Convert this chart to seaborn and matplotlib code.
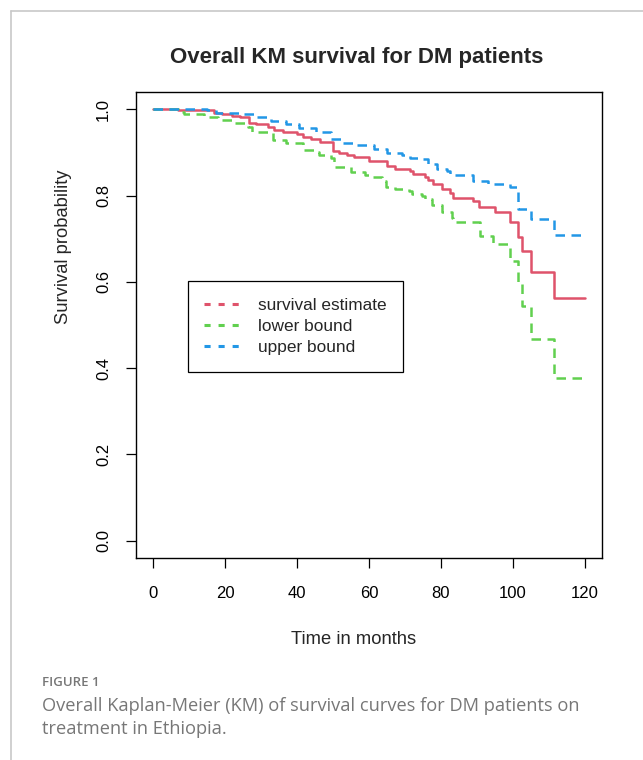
import seaborn as sns
from matplotlib import pyplot as plt
from matplotlib.lines import Line2D

# Kaplan-Meier estimate and 95% bounds
surv_time = [0, 7, 17, 19, 22, 24, 26.5, 28.5, 32, 33.5, 36, 40, 41.6, 44, 46.5, 50, 51.6,
             54, 55.7, 60, 65, 67.3, 71.5, 72.3, 75.6, 76.5, 77.9, 80.4, 82.6, 83.4, 89,
             90.6, 95, 99.2, 101.5, 102.5, 105, 111.5, 120]
surv_prob = [1.0, 0.998, 0.992, 0.99, 0.984, 0.981, 0.968, 0.965, 0.958, 0.951, 0.947, 0.942,
             0.935, 0.93, 0.925, 0.903, 0.899, 0.895, 0.89, 0.88, 0.869, 0.861, 0.857, 0.851,
             0.842, 0.836, 0.826, 0.816, 0.806, 0.795, 0.788, 0.774, 0.762, 0.738, 0.704,
             0.672, 0.623, 0.562, 0.562]

lower_time = [0, 7, 8.5, 14, 18, 22, 26.3, 27.4, 33.2, 37, 41.6, 42, 44.6, 46, 49.3, 50.2,
              54.9, 59, 61, 63.7, 64.6, 67.3, 71, 72, 74.8, 75.5, 77.6, 80.4, 83.1, 83.5,
              90.9, 94.6, 99.2, 101.5, 102.5, 105, 111.5, 120]
lower_prob = [1.0, 0.993, 0.988, 0.983, 0.975, 0.968, 0.958, 0.948, 0.929, 0.921, 0.911, 0.906,
              0.9, 0.894, 0.886, 0.867, 0.855, 0.847, 0.842, 0.834, 0.819, 0.816, 0.811, 0.803,
              0.799, 0.792, 0.778, 0.761, 0.749, 0.738, 0.707, 0.688, 0.649, 0.595, 0.545,
              0.468, 0.377, 0.377]

upper_time = [0, 15, 17.5, 25, 28.5, 32.7, 36.9, 40.5, 45.2, 49.3, 52.9, 56.8, 61.3, 65.1,
              69.3, 71.5, 73.7, 76.5, 79, 81.8, 82.6, 89, 93.2, 99.2, 101.5, 105, 111.5, 120]
upper_prob = [1.0, 0.998, 0.992, 0.988, 0.981, 0.973, 0.965, 0.956, 0.947, 0.932, 0.923, 0.917,
              0.909, 0.898, 0.894, 0.888, 0.884, 0.873, 0.861, 0.857, 0.847, 0.834, 0.826,
              0.819, 0.77, 0.745, 0.709, 0.709]

labels = ['survival estimate', 'lower bound', 'upper bound']
colors = ['#DF536B', '#61D04F', '#2297E6']

sns.set_theme(style="ticks")
plt.rcParams['font.family'] = ['Liberation Sans', 'DejaVu Sans']

fig = plt.figure(figsize=(6.43, 7.6), dpi=100)
ax = fig.add_axes([0.2115, 0.2658, 0.7247, 0.6131])

sns.lineplot(x=surv_time, y=surv_prob, ax=ax, color=colors[0], lw=1.8,
             drawstyle='steps-post')
sns.lineplot(x=lower_time, y=lower_prob, ax=ax, color=colors[1], lw=1.8,
             drawstyle='steps-post', linestyle=(0, (3.8, 2.6)))
sns.lineplot(x=upper_time, y=upper_prob, ax=ax, color=colors[2], lw=1.8,
             drawstyle='steps-post', linestyle=(0, (3.8, 2.6)))

ax.set_xlim(-4.8, 124.8)
ax.set_ylim(-0.04, 1.04)
ax.set_xticks(range(0, 121, 20))
ax.set_yticks([0.0, 0.2, 0.4, 0.6, 0.8, 1.0])
ax.set_yticklabels(['0.0', '0.2', '0.4', '0.6', '0.8', '1.0'], rotation=90, va='center')
ax.tick_params(direction='out', length=7, width=0.9, color='black', labelsize=12,
               labelcolor='black')
ax.tick_params(axis='x', pad=13)
ax.tick_params(axis='y', pad=11)
for s in ax.spines.values():
    s.set_visible(True)
    s.set_color('black')
    s.set_linewidth(1.0)

ax.set_title('Overall KM survival for DM patients', fontsize=16, fontweight='bold',
             x=0.474, pad=21)
ax.set_xlabel('Time in months', fontsize=13.2)
ax.xaxis.set_label_coords(0.466, -0.157)
ax.set_ylabel('Survival probability', fontsize=13.2)
ax.yaxis.set_label_coords(-0.137, 0.668)

handles = [Line2D([], [], color=c, lw=2.2, linestyle=(0, (2, 2.6))) for c in colors]
leg = ax.legend(handles, labels, loc='upper left', bbox_to_anchor=(0.1116, 0.594),
                borderaxespad=0, fontsize=12.4, frameon=True, fancybox=False,
                edgecolor='black', framealpha=1, handlelength=2.0, handletextpad=1.1,
                borderpad=0.95, labelspacing=0.36)
leg.get_frame().set_linewidth(0.9)

# page frame and caption
fig.add_artist(Line2D([11 / 643, 1], [1 - 11 / 760, 1 - 11 / 760], color='#c8c8c8', lw=1.2))
fig.add_artist(Line2D([11 / 643, 11 / 643], [0, 1 - 11 / 760], color='#c8c8c8', lw=1.2))
fig.text(42 / 643, 1 - 683 / 760, 'FIGURE 1', fontsize=9.5, color='#777777',
         family='Open Sans', fontweight='semibold', va='center')
fig.text(42 / 643, 1 - 706 / 760, 'Overall Kaplan-Meier (KM) of survival curves for DM patients on',
         fontsize=13.15, color='#777777', family='Open Sans', va='center')
fig.text(42 / 643, 1 - 729 / 760, 'treatment in Ethiopia.',
         fontsize=13.15, color='#777777', family='Open Sans', va='center')

fig.savefig('out.png', dpi=100)
